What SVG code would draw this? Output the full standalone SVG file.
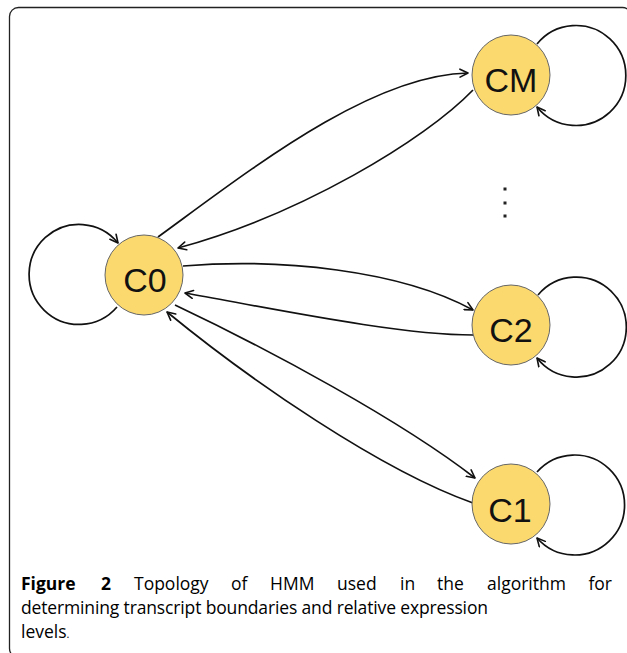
<svg xmlns="http://www.w3.org/2000/svg" width="627" height="653" viewBox="0 0 627 653">
<defs>
<marker id="arr" viewBox="0 0 10 10" refX="9" refY="5" markerWidth="10" markerHeight="10" markerUnits="userSpaceOnUse" orient="auto">
<path d="M1,1 L9,5 L1,9" fill="none" stroke="#111" stroke-width="1.6" stroke-linecap="round" stroke-linejoin="round"/>
</marker>
<style>
.edge{fill:none;stroke:#111;stroke-width:1.7;marker-end:url(#arr)}
.node{fill:#FBD96E;stroke:#666;stroke-width:1}
.lbl{font-family:"Liberation Sans",Arial,sans-serif;font-size:34px;fill:#111;text-anchor:middle}
.cap{font-family:"Open Sans","Noto Sans",sans-serif;font-size:17.5px;font-weight:500;fill:#000}
.capb{font-weight:bold}
</style>
</defs>
<rect x="9.5" y="7.5" width="622" height="650" rx="9" fill="#fff" stroke="#222" stroke-width="1.3"/>
<g id="connectors">
<path class="edge" d="M158,237 C250,170 370,75 468,73"/>
<path class="edge" d="M473,90 C425,140 300,215 178,248"/>
<path class="edge" d="M183,266 C280,258 400,270 473,310"/>
<path class="edge" d="M473,335 C400,335 280,310 185,293"/>
<path class="edge" d="M175,305 C270,350 400,420 475,478"/>
<path class="edge" d="M473,503 C380,470 250,380 167,312"/>
<path class="edge" d="M117,307 A50,50 0 1 1 118,243"/>
<path class="edge" d="M537,44 A50,50 0 1 1 537,107"/>
<path class="edge" d="M538,295 A50,50 0 1 1 537,358"/>
<path class="edge" d="M537,472 A50,50 0 1 1 537,538"/>
</g>
<g id="node-CM">
<ellipse class="node" cx="511" cy="75" rx="39" ry="40"/>
<text class="lbl" x="511" y="92">CM</text>
</g>
<g id="node-C0">
<ellipse class="node" cx="144" cy="275" rx="39" ry="40"/>
<text class="lbl" x="145" y="292">C0</text>
</g>
<g id="node-C2">
<ellipse class="node" cx="511" cy="325" rx="39" ry="40"/>
<text class="lbl" x="511" y="342">C2</text>
</g>
<g id="node-C1">
<ellipse class="node" cx="511" cy="504" rx="39" ry="40"/>
<text class="lbl" x="510" y="522">C1</text>
</g>
<g id="ellipsis" fill="#222">
<rect x="503.5" y="187.5" width="3" height="3"/>
<rect x="503.5" y="201.5" width="3" height="3"/>
<rect x="503.5" y="214.5" width="3" height="3"/>
</g>
<g id="caption">
<text class="cap" y="590"><tspan class="capb" x="21">Figure</tspan><tspan class="capb" x="101">2</tspan><tspan x="134">Topology</tspan><tspan x="231">of</tspan><tspan x="270">HMM</tspan><tspan x="337">used</tspan><tspan x="400">in</tspan><tspan x="437">the</tspan><tspan x="487">algorithm</tspan></text>
<text class="cap" x="612" y="590" text-anchor="end">for</text>
<text class="cap" x="21" y="614" textLength="467" lengthAdjust="spacing">determining transcript boundaries and relative expression</text>
<text class="cap" x="21" y="638">levels<tspan font-size="11">.</tspan></text>
</g>
</svg>
